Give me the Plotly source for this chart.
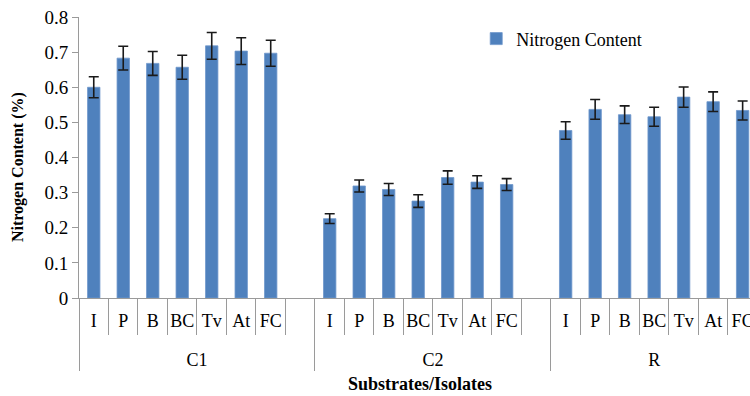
import plotly.graph_objects as go

groups = ["C1", "C2", "R"]
isolates = ["I", "P", "B", "BC", "Tv", "At", "FC", " "]

values_c1 = [0.600, 0.683, 0.668, 0.657, 0.718, 0.703, 0.697, None]
errors_c1 = [0.030, 0.034, 0.034, 0.034, 0.038, 0.038, 0.037, None]
values_c2 = [0.226, 0.319, 0.309, 0.276, 0.343, 0.330, 0.323, None]
errors_c2 = [0.014, 0.017, 0.017, 0.018, 0.019, 0.018, 0.017, None]
values_r = [0.477, 0.537, 0.522, 0.516, 0.572, 0.559, 0.534, None]
errors_r = [0.025, 0.028, 0.025, 0.027, 0.029, 0.028, 0.027, None]

x_groups = []
x_subs = []
for g in groups:
    for s in isolates:
        x_groups.append("<br>" + g)
        x_subs.append(s)
values = values_c1 + values_c2 + values_r
errors = errors_c1 + errors_c2 + errors_r

FONT = "Liberation Serif"
AXIS = "#9a9a9a"

fig = go.Figure()
fig.add_trace(go.Bar(
    x=[x_groups, x_subs],
    y=values,
    name="Nitrogen Content",
    marker=dict(color="#4F81BD", line=dict(color="#6f97cc", width=0.8)),
    error_y=dict(type="data", array=errors, visible=True, color="#1a1a1a",
                 thickness=1.6, width=5),
    showlegend=True,
))

fig.update_layout(
    width=750, height=396,
    margin=dict(l=79, r=0, t=17, b=98, autoexpand=False),
    paper_bgcolor="white", plot_bgcolor="white",
    bargap=0.58,
    font=dict(family=FONT, size=16, color="#000000"),
    showlegend=True,
    legend=dict(x=0.592, y=0.922, xanchor="left", yanchor="middle",
                font=dict(family=FONT, size=18, color="#000000"),
                bgcolor="rgba(0,0,0,0)"),
    xaxis=dict(
        type="multicategory",
        range=[-0.5, 22.25],
        automargin=False,
        showline=True, linecolor=AXIS, linewidth=1,
        ticks="outside", ticklen=36, tickcolor=AXIS, tickwidth=1,
        showdividers=True, dividercolor=AXIS, dividerwidth=1,
        tickangle=0, ticklabelstandoff=6,
        tickfont=dict(family=FONT, size=18, color="#000000"),
        showgrid=False,
    ),
    yaxis=dict(
        range=[0, 0.8001], dtick=0.1, tick0=0,
        automargin=False, ticklabeloverflow="allow",
        showline=True, linecolor=AXIS, linewidth=1,
        ticks="outside", ticklen=6, tickcolor=AXIS,
        showgrid=False, zeroline=False,
        tickfont=dict(family=FONT, size=19, color="#000000"),
        tickformat="~g",
    ),
)

fig.add_annotation(
    text="<b>Nitrogen Content (%)</b>",
    xref="paper", yref="paper", x=-0.0909, y=0.466,
    xanchor="center", yanchor="middle", showarrow=False, textangle=-90,
    font=dict(family=FONT, size=16, color="#000000"),
)

fig.add_annotation(
    text="<b>Substrates/Isolates</b>",
    xref="paper", yref="paper", x=0.508, y=-0.307,
    xanchor="center", yanchor="middle", showarrow=False,
    font=dict(family=FONT, size=18, color="#000000"),
)

fig.write_html(
    "out.html",
    config={"displayModeBar": False},
    post_script="document.body.style.margin='0';document.body.style.overflow='hidden';",
)
